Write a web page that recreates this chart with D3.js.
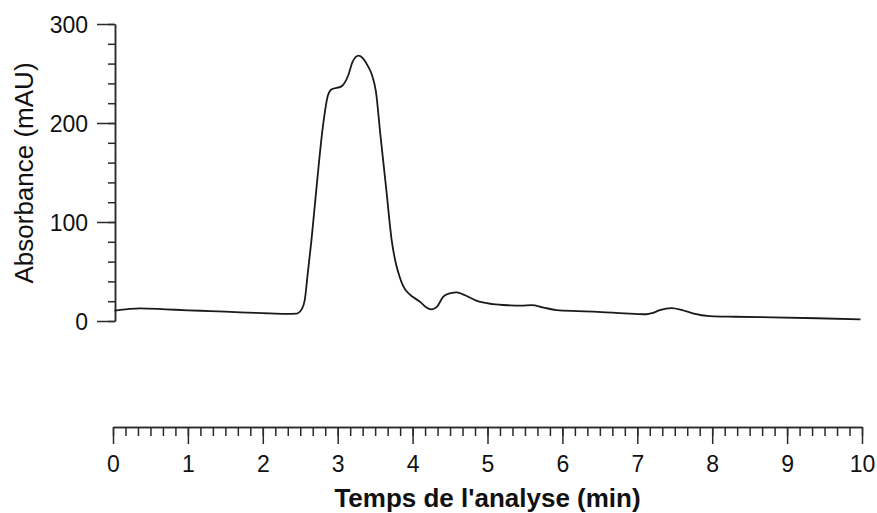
<!DOCTYPE html>
<html>
<head>
<meta charset="utf-8">
<script src="https://cdn.jsdelivr.net/npm/d3@7"></script>
<style>
    body { margin: 0; background: #fff; }
    text { font-family: "Liberation Sans", Arial, sans-serif; fill: #111; }
</style>
</head>
<body>
<div id="chart"></div>
<script>
var temps = [0.02, 0.2, 0.36, 0.7, 1.0, 1.3, 1.7, 2.0, 2.3, 2.45, 2.52, 2.56, 2.60, 2.65, 2.72, 2.80, 2.87, 2.92,
    3.05, 3.14, 3.20, 3.28, 3.34, 3.40, 3.46, 3.51, 3.57, 3.65, 3.72, 3.78, 3.83, 3.87, 3.92, 4.0, 4.07, 4.12,
    4.18, 4.25, 4.32, 4.41, 4.5, 4.59, 4.7, 4.85, 5.07, 5.3, 5.45, 5.59, 5.75, 5.92, 6.2, 6.41, 6.67, 6.9, 7.12,
    7.2, 7.3, 7.46, 7.6, 7.74, 7.97, 8.3, 8.8, 9.4, 9.98];
var absorbance = [10.4, 12.0, 12.8, 11.8, 10.8, 10.0, 8.8, 8.0, 7.2, 7.5, 12, 21, 48, 82, 137, 195, 228, 234,
    237, 248, 262, 268, 265, 258, 248, 232, 188, 132, 82, 57, 44, 36, 30, 24.5, 21, 18,
    14, 11.8, 14, 24.5, 28, 29, 26, 20.5, 17, 15.8, 15.5, 16, 13.5, 11, 10, 9.4, 8.4, 7.5, 6.8,
    8, 11, 13, 11, 7.8, 5, 4.3, 3.7, 2.8, 1.7];
var xTicks = [0, 1, 2, 3, 4, 5, 6, 7, 8, 9, 10];
var yTicks = [0, 100, 200, 300];

var width = 877, height = 513;
var axisColor = "#2a2a2a";

var svg = d3.select("#chart").append("svg")
    .attr("width", width)
    .attr("height", height);

var x = d3.scaleLinear().domain([0, 10]).range([113, 862]);
var y = d3.scaleLinear().domain([0, 300]).range([321, 24]);

// axe Y
var yMinor = d3.range(0, 301, 20);
svg.append("g")
    .attr("transform", "translate(115,0)")
    .call(d3.axisLeft(y).tickValues(yMinor).tickSize(7).tickSizeOuter(0).tickFormat(""));
svg.append("g")
    .attr("class", "yaxis")
    .attr("transform", "translate(115,0)")
    .call(d3.axisLeft(y).tickValues(yTicks).tickSize(18).tickSizeOuter(0).tickPadding(9))
    .selectAll("text")
    .style("font-size", "23px")
    .attr("dy", "0.36em");

// axe X, séparé sous la courbe
var xMinor = d3.range(0, 61).map(function (d) { return d / 6; });
svg.append("g")
    .attr("transform", "translate(0,427)")
    .call(d3.axisBottom(x).tickValues(xMinor).tickSize(9).tickSizeOuter(0).tickFormat(""));
svg.append("g")
    .attr("transform", "translate(0,427)")
    .call(d3.axisBottom(x).tickValues(xTicks).tickSize(17).tickSizeOuter(0).tickPadding(12))
    .selectAll("text")
    .style("font-size", "23px");

svg.selectAll(".domain, .tick line")
    .attr("stroke", axisColor)
    .attr("stroke-width", 1.5);

// titres
svg.append("text")
    .attr("x", (x(0) + x(10)) / 2)
    .attr("y", 507)
    .attr("text-anchor", "middle")
    .style("font-size", "26px")
    .style("font-weight", "bold")
    .text("Temps de l'analyse (min)");

svg.append("text")
    .attr("transform", "translate(33,173) rotate(-90)")
    .attr("text-anchor", "middle")
    .style("font-size", "26px")
    .text("Absorbance (mAU)");

// chromatogramme
var pts = temps.map(function (t, i) { return [t, absorbance[i]]; });
var line = d3.line()
    .x(function (d) { return x(d[0]); })
    .y(function (d) { return y(d[1]); })
    .curve(d3.curveMonotoneX);

svg.append("path")
    .datum(pts)
    .attr("fill", "none")
    .attr("stroke", "#1a1a1a")
    .attr("stroke-width", 1.8)
    .attr("d", line);
</script>
</body>
</html>
